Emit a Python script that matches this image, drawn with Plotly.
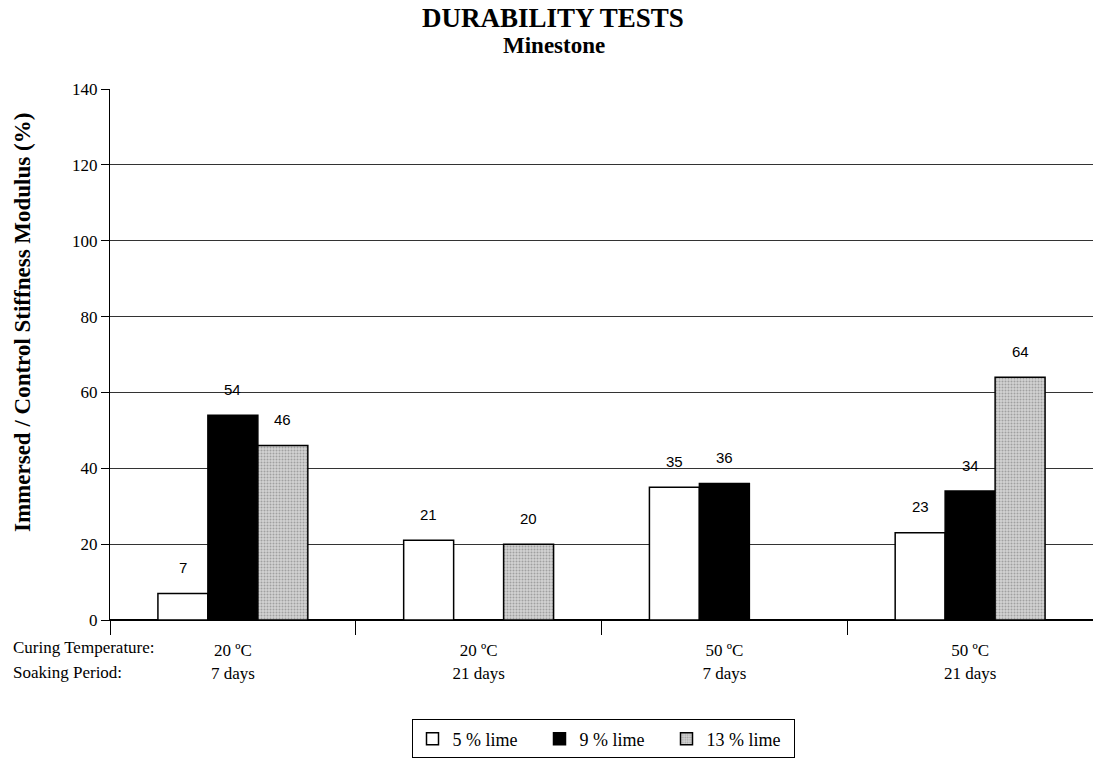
import plotly.graph_objects as go

categories = ["20 ºC<br>7 days", "20 ºC<br>21 days", "50 ºC<br>7 days", "50 ºC<br>21 days"]
lime5 = [7, 21, 35, 23]
lime9 = [54, None, 36, 34]
lime13 = [46, 20, None, 64]
series_names = ["5 % lime", "9 % lime", "13 % lime"]

serif = "Liberation Serif, Times New Roman, serif"
label_font = dict(family="Liberation Sans, Arial, sans-serif", size=15, color="black")

BARGAP = 0.39
fig = go.Figure()
styles = [
    dict(color="white", line=dict(color="black", width=1.5)),
    dict(color="black", line=dict(color="black", width=1.5)),
    dict(color="#c0c0c0", line=dict(color="black", width=1.5),
         pattern=dict(shape=".", fgcolor="#6e6e6e", bgcolor="#d2d2d2", size=3, solidity=0.35)),
]
all_series = [lime5, lime9, lime13]
for name, vals, st in zip(series_names, all_series, styles):
    fig.add_trace(go.Bar(x=categories, y=vals, name=name, marker=st))

# value labels above bars (positioned from the data and the group layout)
bw = (1 - BARGAP) / len(all_series)
for k, vals in enumerate(all_series):
    off = (k - (len(all_series) - 1) / 2) * bw
    for i, v in enumerate(vals):
        if v is None:
            continue
        fig.add_annotation(x=i + off, y=v, xref="x", yref="y", text=str(v),
                           showarrow=False, yanchor="middle", yshift=26,
                           font=label_font)

fig.update_layout(
    width=1093, height=760,
    paper_bgcolor="white", plot_bgcolor="white",
    margin=dict(l=110, r=0, t=89, b=140),
    barmode="group", bargap=BARGAP, bargroupgap=0,
    font=dict(family=serif, size=17, color="black"),
    legend=dict(
        orientation="h", x=603 / 1093, xanchor="center", xref="container",
        y=0.002, yanchor="bottom", yref="container",
        bordercolor="black", borderwidth=1, font=dict(family=serif, size=18, color="black"),
        traceorder="normal", itemwidth=30, tracegroupgap=0, entrywidth=82,
    ),
    showlegend=True,
)

fig.update_xaxes(
    type="category", tickson="boundaries", ticks="outside", ticklen=14, tickcolor="black",
    showline=True, linecolor="black", linewidth=1, showgrid=False, automargin=False,
    tickfont=dict(family=serif, size=17), ticklabelstandoff=15,
)
fig.update_yaxes(
    range=[0, 140], dtick=20, ticks="outside", ticklen=8, tickcolor="black",
    showline=True, linecolor="black", linewidth=1, automargin=False,
    showgrid=True, gridcolor="#333333", gridwidth=1,
    zeroline=True, zerolinecolor="black", zerolinewidth=1.5,
    tickfont=dict(family=serif, size=17),
)

# titles
fig.add_annotation(text="<b>DURABILITY TESTS</b>", xref="paper", yref="paper",
                   x=(553 - 110) / 983, y=1 + (89 - 18) / 531, xanchor="center", yanchor="middle",
                   showarrow=False, font=dict(family=serif, size=27))
fig.add_annotation(text="<b>Minestone</b>", xref="paper", yref="paper",
                   x=(554 - 110) / 983, y=1 + (89 - 45) / 531, xanchor="center", yanchor="middle",
                   showarrow=False, font=dict(family=serif, size=23))
fig.add_annotation(text="<b>Immersed / Control Stiffness Modulus (%)</b>", xref="paper", yref="paper",
                   x=-(110 - 22) / 983, y=(620 - 323) / 531, xanchor="center", yanchor="middle",
                   textangle=-90, showarrow=False, font=dict(family=serif, size=23))

fig.add_annotation(text="Curing Temperature:", xref="paper", yref="paper",
                   x=-99 / 983, y=-(647 - 620) / 531, xanchor="left", yanchor="middle", showarrow=False,
                   font=dict(family=serif, size=17))
fig.add_annotation(text="Soaking Period:", xref="paper", yref="paper",
                   x=-99 / 983, y=-(672 - 620) / 531, xanchor="left", yanchor="middle", showarrow=False,
                   font=dict(family=serif, size=17))

fig.write_html("out.html", post_script="document.body.style.margin='0';",
               config={"displayModeBar": False})
